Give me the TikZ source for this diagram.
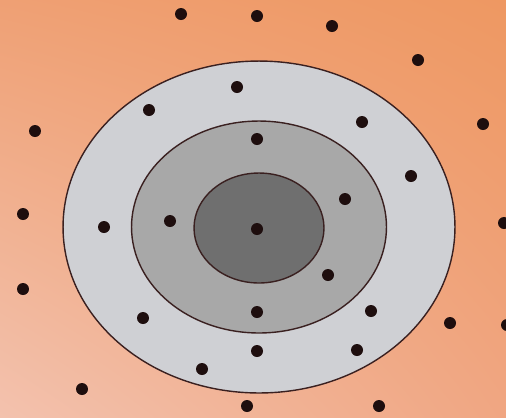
\documentclass[tikz,border=0pt]{standalone}
\usepackage{tikz}
\usetikzlibrary{shapes.geometric,shadings}
\definecolor{bgtopleft}{HTML}{EFA074}
\definecolor{bgtopright}{HTML}{EE9862}
\definecolor{bgbotleft}{HTML}{F3C2AE}
\definecolor{bgbotright}{HTML}{F0A682}
\definecolor{ringouter}{HTML}{CFD0D4}
\definecolor{ringmid}{HTML}{A8A8A8}
\definecolor{ringinner}{HTML}{6F6F6F}
\definecolor{rimline}{HTML}{3A2020}
\definecolor{dotcol}{HTML}{1E0E0E}

\begin{document}
\begin{tikzpicture}[x=0.02cm, y=-0.02cm,
  ring/.style={draw=rimline, line width=0.8pt, ellipse, inner sep=0pt},
  dot/.style={circle, fill=dotcol, inner sep=0pt, minimum size=0.24cm}]
  % background
  \useasboundingbox (0,0) rectangle (506,417);
  \shade[upper left=bgtopleft, upper right=bgtopright,
         lower left=bgbotleft, lower right=bgbotright] (0,0) rectangle (506,417);

  % rings
  \node[ring, fill=ringouter, minimum width=7.84cm, minimum height=6.64cm] (outer) at (259,227) {};
  \node[ring, fill=ringmid, minimum width=5.1cm, minimum height=4.24cm] (middle) at (259,227) {};
  \node[ring, fill=ringinner, minimum width=2.6cm, minimum height=2.2cm] (inner) at (259,228) {};

  % dots outside
  \foreach \x/\y [count=\i] in {181/14, 257/16, 332/26, 418/60, 483/124, 35/131,
      23/214, 504/223, 23/289, 450/323, 507/325, 82/389, 247/406, 379/406}
    \node[dot] (out\i) at (\x,\y) {};

  % dots in outer ring
  \foreach \x/\y [count=\i] in {237/87, 149/110, 362/122, 411/176, 104/227,
      143/318, 371/311, 257/351, 357/350, 202/369}
    \node[dot] (ring\i) at (\x,\y) {};

  % dots in middle ring
  \foreach \x/\y [count=\i] in {257/139, 345/199, 170/221, 328/275, 257/312}
    \node[dot] (mid\i) at (\x,\y) {};

  % centre dot
  \node[dot] (centre) at (257,229) {};
\end{tikzpicture}
\end{document}
